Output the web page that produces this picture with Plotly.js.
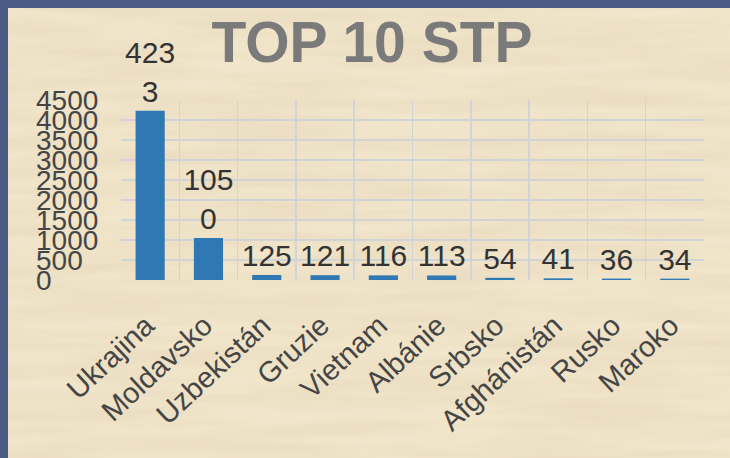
<!DOCTYPE html>
<html>
<head>
<meta charset="utf-8">
<script src="https://cdn.plot.ly/plotly-3.0.1.min.js"></script>
<style>
  html, body { margin: 0; padding: 0; background: #4b5b86; width: 730px; height: 458px; overflow: hidden; }
  #chart { position: absolute; left: 8px; top: 8px; width: 722px; height: 450px; }
</style>
</head>
<body>
<div id="chart"></div>
<script>
const countries = ["Ukrajina", "Moldavsko", "Uzbekistán", "Gruzie", "Vietnam", "Albánie", "Srbsko", "Afghánistán", "Rusko", "Maroko"];
const counts = [4233, 1050, 125, 121, 116, 113, 54, 41, 36, 34];
const yTicks = [0, 500, 1000, 1500, 2000, 2500, 3000, 3500, 4000, 4500];
const chartTitle = "TOP 10 STP";

// parchment-like backdrop (deterministic SVG noise)
const svgBg = "<svg xmlns='http://www.w3.org/2000/svg' width='722' height='450'>" +
  "<filter id='f'><feTurbulence type='fractalNoise' baseFrequency='0.006 0.07' numOctaves='3' seed='7'/>" +
  "<feColorMatrix type='matrix' values='0 0 0 0 0.7  0 0 0 0 0.58  0 0 0 0 0.38  0 0 0 0.45 0'/></filter>" +
  "<rect width='100%' height='100%' fill='#f4e9d0'/>" +
  "<rect width='100%' height='100%' filter='url(#f)'/></svg>";
document.getElementById("chart").style.background =
  "url(\"data:image/svg+xml;utf8," + encodeURIComponent(svgBg) + "\")";

// labels wrap after 3 characters as in the narrow label box of the original
const labels = counts.map(v => {
  const s = String(v);
  return s.length > 3 ? s.slice(0, 3) + "<br>" + s.slice(3) : s;
});

const font = "Liberation Sans, Arial, sans-serif";

const trace = {
  type: "bar",
  x: countries,
  y: counts,
  text: labels,
  textposition: "outside",
  textfont: { family: font, size: 30, color: "#333333" },
  constraintext: "none",
  cliponaxis: false,
  marker: { color: "#2f78b4" },
  hoverinfo: "x+y"
};

const L = 24, R = 26;
const plotW = 722 - L - R;

const layout = {
  width: 722,
  height: 450,
  paper_bgcolor: "rgba(0,0,0,0)",
  plot_bgcolor: "rgba(0,0,0,0)",
  margin: { l: L, r: R, t: 92, b: 178 },
  showlegend: false,
  bargap: 0.5,
  title: {
    text: chartTitle,
    font: { family: font, size: 57, color: "#7a7a7a", weight: "bold" },
    x: 364 / 722, xref: "container", xanchor: "center",
    y: 1 - 34 / 450, yref: "container", yanchor: "middle"
  },
  xaxis: {
    domain: [(113 - L) / plotW, 1],
    type: "category",
    tickson: "boundaries",
    showgrid: true,
    gridcolor: "#d2d3d6",
    gridwidth: 1.5,
    showline: false,
    ticks: "",
    zeroline: false,
    tickangle: -43,
    tickfont: { family: font, size: 29, color: "#454545" },
    ticklabelshift: -4,
    ticklabelstandoff: 22,
    fixedrange: true
  },
  yaxis: {
    anchor: "free",
    position: 0,
    range: [0, 4500],
    tickmode: "array",
    tickvals: yTicks,
    ticktext: yTicks.map(String),
    ticklabelposition: "inside",
    ticklabeloverflow: "allow",
    showgrid: true,
    gridcolor: "#d2d3d6",
    gridwidth: 1.5,
    showline: false,
    zeroline: false,
    ticks: "",
    tickfont: { family: font, size: 28, color: "#454545" },
    fixedrange: true
  }
};

Plotly.newPlot("chart", [trace], layout, { displayModeBar: false, staticPlot: true });
</script>
</body>
</html>
